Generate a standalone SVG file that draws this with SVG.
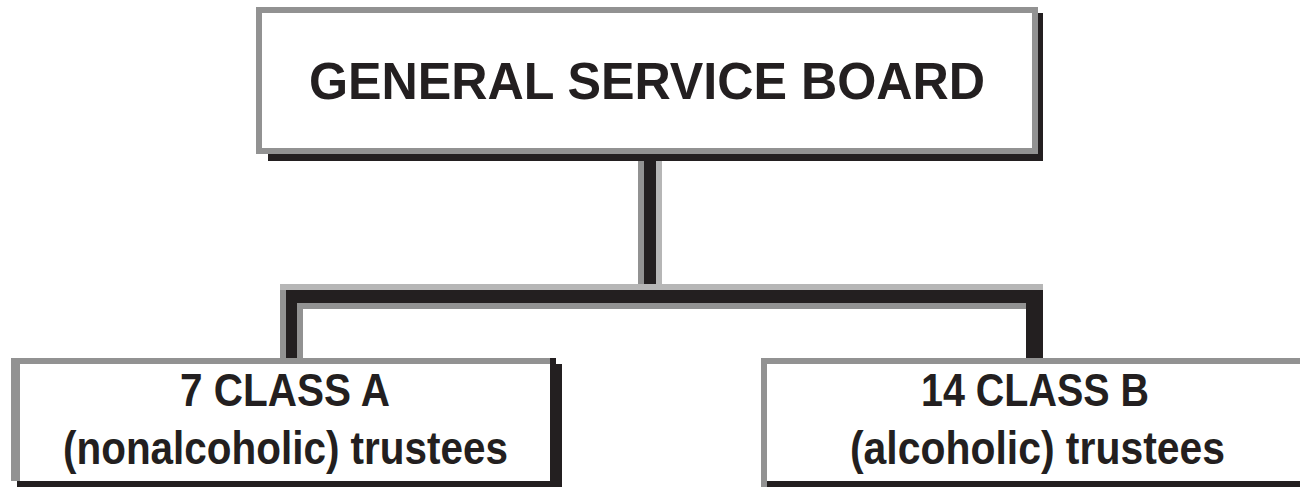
<svg xmlns="http://www.w3.org/2000/svg" width="1300" height="487" viewBox="0 0 1300 487">
<style>
.g{fill:#929292}
.lg{fill:#b6b6b6}
.k{fill:#231f20}
.t{font-family:"Liberation Sans",Arial,sans-serif;font-weight:bold;fill:#231f20;text-anchor:middle}
</style>
<rect width="1300" height="487" fill="#ffffff"/>
<g id="connectors">
<rect class="g" x="638" y="161" width="6" height="123"/>
<rect class="lg" x="656" y="161" width="6" height="123"/>
<rect class="k" x="644" y="155" width="12" height="135"/>
<rect class="lg" x="280" y="284" width="763" height="6"/>
<rect class="k" x="280" y="290" width="763" height="13"/>
<rect class="g" x="297" y="303" width="729" height="6"/>
<rect class="g" x="280" y="290" width="6" height="68"/>
<rect class="k" x="286" y="290" width="11" height="68"/>
<rect class="g" x="297" y="303" width="6" height="55"/>
<rect class="k" x="1026" y="290" width="17" height="68"/>
</g>
<g id="general-service-board">
<rect x="256" y="7" width="782" height="147" fill="#ffffff"/>
<rect x="259" y="10" width="776" height="141" fill="none" stroke="#929292" stroke-width="6"/>
<rect class="k" x="268" y="154" width="775" height="7"/>
<rect class="k" x="1038" y="13" width="5" height="148"/>
<text class="t" x="647" y="99" font-size="52" textLength="676" lengthAdjust="spacingAndGlyphs">GENERAL SERVICE BOARD</text>
</g>
<g id="class-a">
<rect x="11" y="358" width="545" height="129" fill="#ffffff"/>
<rect class="g" x="11" y="358" width="539" height="6"/>
<rect class="g" x="11" y="358" width="9" height="123"/>
<rect class="k" x="550" y="358" width="6" height="129"/>
<rect class="k" x="556" y="364" width="6" height="123"/>
<rect class="k" x="17" y="481" width="545" height="6"/>
<text class="t" x="285" y="406" font-size="46" textLength="210" lengthAdjust="spacingAndGlyphs">7 CLASS A</text>
<text class="t" x="285.5" y="464" font-size="46" textLength="445" lengthAdjust="spacingAndGlyphs">(nonalcoholic) trustees</text>
</g>
<g id="class-b">
<rect x="761" y="358" width="539" height="129" fill="#ffffff"/>
<rect class="g" x="761" y="358" width="539" height="6"/>
<rect class="g" x="761" y="358" width="6" height="129"/>
<rect class="k" x="767" y="481" width="533" height="6"/>
<text class="t" x="1035" y="406" font-size="46" textLength="228" lengthAdjust="spacingAndGlyphs">14 CLASS B</text>
<text class="t" x="1037.5" y="464" font-size="46" textLength="375" lengthAdjust="spacingAndGlyphs">(alcoholic) trustees</text>
</g>
</svg>
